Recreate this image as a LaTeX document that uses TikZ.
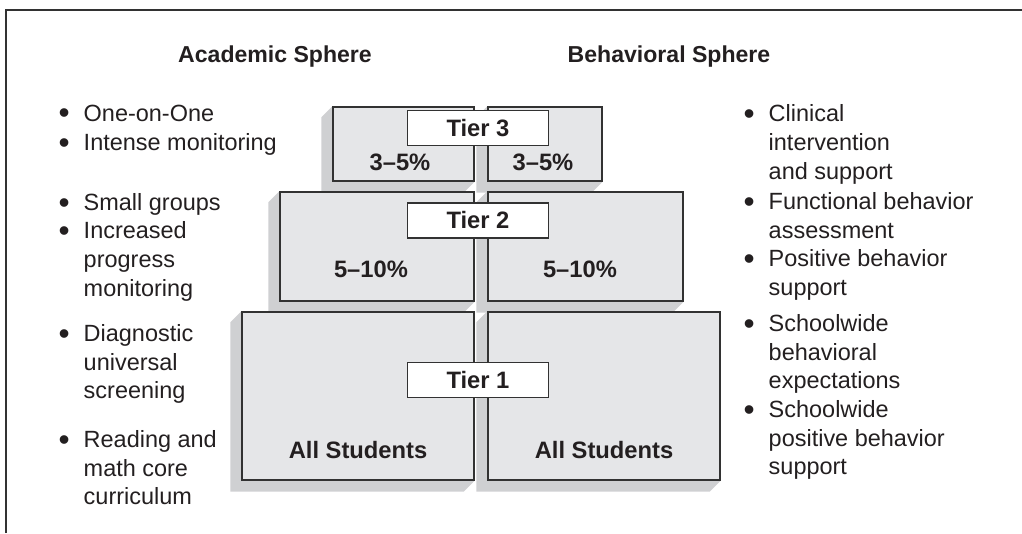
\documentclass[tikz,border=0pt]{standalone}
\usepackage{fontspec}
\setmainfont{Liberation Sans}
\usetikzlibrary{fit,backgrounds}
\definecolor{boxgray}{RGB}{229,230,232}
\definecolor{shadegray}{RGB}{207,208,210}
\definecolor{linegray}{RGB}{50,50,50}
\definecolor{inkblack}{RGB}{35,31,32}
\newcommand{\bul}{\llap{\raisebox{-0.12em}{\scalebox{1.35}{\textbullet}}\hspace{10.5pt}}}

\begin{document}
\begin{tikzpicture} [x=0.75pt,y=-0.75pt,line width=1.1pt,
  every node/.style={text=inkblack,inner sep=0pt},
  txt/.style={font=\fontsize{17.6}{21.6}\selectfont,align=left,anchor=north west},
  head/.style={font=\fontsize{17.3}{21}\selectfont\bfseries,anchor=base},
  boxtext/.style={font=\fontsize{17.8}{21}\selectfont\bfseries,anchor=base},
  tierbox/.style={draw=linegray,fill=boxgray,fit={#1}},
  tierlabel/.style={draw=linegray,fill=white,minimum width=105.75pt,minimum height=26.25pt,font=\fontsize{17.8}{21}\selectfont\bfseries}]

  \useasboundingbox (0,0) rectangle (1022,533);
  \draw[line width=1.5pt,linegray] (6,533) -- (6,10) -- (1022,10);

  \node[head] (acad) at (275,62) {Academic Sphere};
  \node[head] (behav) at (669,62) {Behavioral Sphere};

  % the two pyramids
  \node[tierbox={(333,107) (474,181)}] (t3l) {};
  \node[tierbox={(488,107) (602,181)}] (t3r) {};
  \node[tierbox={(280,192) (474,301)}] (t2l) {};
  \node[tierbox={(488,192) (683,301)}] (t2r) {};
  \node[tierbox={(242,312) (474,480)}] (t1l) {};
  \node[tierbox={(488,312) (720,480)}] (t1r) {};

  \begin{scope}[on background layer]
    \foreach \b in {t3l,t3r,t2l,t2r,t1l,t1r}
      \fill[shadegray] (\b.north west) -- ([shift={(-11,11)}]\b.north west)
        -- ([shift={(-11,11)}]\b.south west) -- ([shift={(-11,11)}]\b.south east)
        -- (\b.south east) -- cycle;
  \end{scope}

  \node[tierlabel] (tier3) at (478,128) {Tier 3};
  \node[tierlabel] (tier2) at (478,220.5) {Tier 2};
  \node[tierlabel] (tier1) at (478,380) {Tier 1};

  \node[boxtext] (p3l) at (400,170) {3--5\%};
  \node[boxtext] (p3r) at (543,170) {3--5\%};
  \node[boxtext] (p2l) at (371,277) {5--10\%};
  \node[boxtext] (p2r) at (580,277) {5--10\%};
  \node[boxtext] (alll) at (358,458) {All Students};
  \node[boxtext] (allr) at (604,458) {All Students};

  % academic list
  \node[txt] (a1) at (83,104) {\bul One-on-One};
  \node[txt] (a2) at (83,133) {\bul Intense monitoring};
  \node[txt] (a3) at (83,192.5) {\bul Small groups};
  \node[txt] (a4) at (83,221) {\bul Increased\\progress\\monitoring};
  \node[txt] (a5) at (83,323.5) {\bul Diagnostic\\universal\\screening};
  \node[txt] (a6) at (83,429.5) {\bul Reading and\\math core\\curriculum};

  % behavioral list
  \node[txt] (b1) at (768,104) {\bul Clinical\\intervention\\and support};
  \node[txt] (b2) at (768,191.5) {\bul Functional behavior\\assessment};
  \node[txt] (b3) at (768,248.5) {\bul Positive behavior\\support};
  \node[txt] (b4) at (768,313.5) {\bul Schoolwide\\behavioral\\expectations};
  \node[txt] (b5) at (768,399.5) {\bul Schoolwide\\positive behavior\\support};
\end{tikzpicture}
\end{document}
